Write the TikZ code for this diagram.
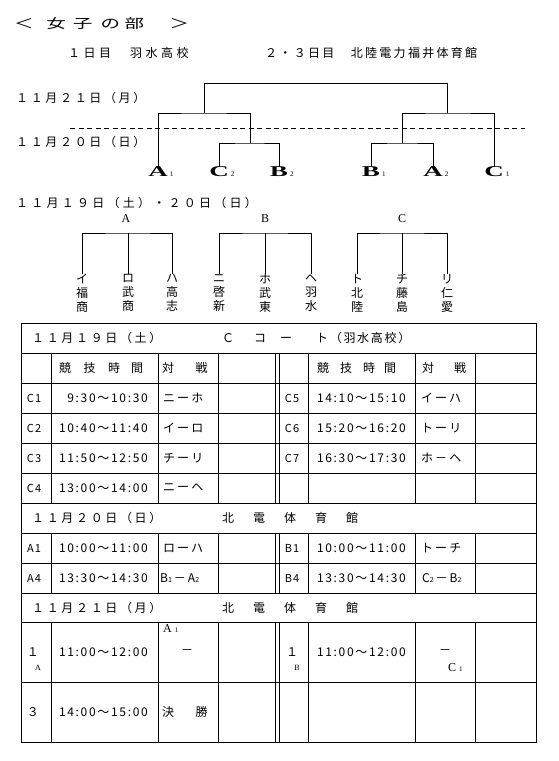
\documentclass[tikz,border=0pt]{standalone}
\usepackage{fontspec}
\setmainfont{Liberation Serif}
\newfontfamily\jp{Noto Sans CJK JP}
\newcommand\jpf[2]{\jp\addfontfeatures{LetterSpace=#2}\fontsize{#1}{#1}\selectfont}
\newcommand\seed[2]{\scalebox{1.8}[1]{#1}\rlap{\hspace{2pt}\fontsize{7}{7}\selectfont\mdseries #2}}
\newcommand\idx[1]{{\fontsize{7}{7}\selectfont #1}}

\tikzset{
  every node/.style={inner sep=0pt},
  ln/.style={line width=1pt},
  seed/.style={font=\fontsize{15}{15}\selectfont\bfseries},
  grp/.style={font=\fontsize{12}{12}\selectfont},
  team/.style={anchor=north, align=center, font=\jp\fontsize{12}{14}\selectfont},
  date/.style={anchor=west, font=\jpf{12}{22}},
  cell/.style={font=\jpf{11}{10}},
  hhmm/.style={anchor=east, font=\jpf{12}{14}},
  pairtxt/.style={anchor=west, font=\jpf{12}{17}},
}

\begin{document}
\begin{tikzpicture}[x=1pt,y=-1pt]
\useasboundingbox (0,0) rectangle (559,761);

% heading
\node[anchor=west, font=\jpf{13}{0}] (title) at (14,24) {\scalebox{1.5}[1]{＜\hspace{8.5pt}女\hspace{4.6pt}子\hspace{5.6pt}の\hspace{3pt}部\hspace{17pt}＞}};
\node[anchor=west, font=\jpf{12}{29}] (day1) at (68,53) {１日目　羽水高校};
\node[anchor=west, font=\jpf{12}{19}] (day23) at (265,53) {２・３日目　北陸電力福井体育館};

% final tournament
\node[date] (d21) at (16,98) {１１月２１日（月）};
\node[date] (d20) at (16,142) {１１月２０日（日）};
\draw[ln, dash pattern=on 5pt off 3.5pt] (70,128) -- (525,128);

\node[seed] (A1) at (158,172) {\seed{A}{1}};
\node[seed] (C2) at (219,172) {\seed{C}{2}};
\node[seed] (B2) at (279,172) {\seed{B}{2}};
\node[seed] (B1) at (371,172) {\seed{B}{1}};
\node[seed] (A2) at (433,172) {\seed{A}{2}};
\node[seed] (C1) at (494,172) {\seed{C}{1}};

\coordinate (fin) at (204,83);
\coordinate (sfl) at (204,113);
\coordinate (sfr) at (447,113);
\coordinate (qfl) at (250,143);
\coordinate (qfr) at (402,143);
\draw[ln] (A1) |- (sfl) -| (qfl);
\draw[ln] (C2) |- (qfl) -| (B2);
\draw[ln] (sfl) |- (fin) -| (sfr);
\draw[ln] (C1) |- (sfr) -| (qfr);
\draw[ln] (B1) |- (qfr) -| (A2);

% league
\node[anchor=west, font=\jpf{12}{27}] (d19) at (16,203) {１１月１９日（土）・２０日（日）};
\node[grp] (gA) at (126,219) {A};
\node[grp] (gB) at (265,219) {B};
\node[grp] (gC) at (402,219) {C};
\coordinate (bA) at (128,233);
\coordinate (bB) at (265,233);
\coordinate (bC) at (402,233);

\node[team] (i)   at (82,274)  {イ\\福\\商};
\node[team] (ro)  at (128,274) {ロ\\武\\商};
\node[team] (ha)  at (172,274) {ハ\\高\\志};
\node[team] (ni)  at (219,274) {ニ\\啓\\新};
\node[team] (ho)  at (265,274) {ホ\\武\\東};
\node[team] (he)  at (311,274) {ヘ\\羽\\水};
\node[team] (to)  at (357,274) {ト\\北\\陸};
\node[team] (chi) at (402,274) {チ\\藤\\島};
\node[team] (ri)  at (447,274) {リ\\仁\\愛};

\draw[ln] (i) |- (bA) -| (ha);
\draw[ln] (ro) -- (bA);
\draw[ln] (ni) |- (bB) -| (he);
\draw[ln] (ho) -- (bB);
\draw[ln] (to) |- (bC) -| (ri);
\draw[ln] (chi) -- (bC);

% timetable
\draw[ln] (21,323) rectangle (536,742);
\foreach \y in {353,383,413,443,473,503,533,563,593,622,682}
  \draw[ln] (21,\y) -- (536,\y);
\foreach \x in {51,158,218,275,279,308.5,415,475}
  \foreach \a/\b in {353/503,533/593,622/742}
    \draw[ln] (\x,\a) -- (\x,\b);

\node[date] (h19) at (32,338) {１１月１９日（土）};
\node[anchor=west, font=\jpf{12}{14}] (court) at (222,338) {Ｃ\hspace{20pt}コ\hspace{14pt}ー\hspace{24pt}ト（羽水高校）};
\node[anchor=west, font=\jpf{12}{0}] (colL) at (59,368) {競\hspace{12.5pt}技\hspace{12.5pt}時\hspace{11pt}間};
\node[anchor=west, font=\jpf{12}{0}] (colR) at (317,368) {競\hspace{11pt}技\hspace{11pt}時\hspace{9pt}間};
\node[anchor=west, font=\jpf{12}{0}] (vsL) at (162,368) {対\hspace{21.5pt}戦};
\node[anchor=west, font=\jpf{12}{0}] (vsR) at (422,368) {対\hspace{20pt}戦};

\foreach \code/\hm/\pair [count=\k] in {C1/9:30～10:30/ニーホ, C2/10:40～11:40/イーロ, C3/11:50～12:50/チーリ, C4/13:00～14:00/ニーヘ} {
  \node[cell] (c\k) at (34,368+30*\k) {\code};
  \node[hhmm] (t\k) at (148,368+30*\k) {\hm};
  \node[pairtxt] (p\k) at (163,368+30*\k) {\pair};
}
\foreach \code/\hm/\pair [count=\k] in {C5/14:10～15:10/イーハ, C6/15:20～16:20/トーリ, C7/16:30～17:30/ホ－ヘ} {
  \node[cell] (cr\k) at (292,368+30*\k) {\code};
  \node[hhmm] (tr\k) at (406,368+30*\k) {\hm};
  \node[pairtxt] (pr\k) at (421,368+30*\k) {\pair};
}

\node[date] (h20) at (32,518) {１１月２０日（日）};
\node[anchor=west, font=\jpf{12}{29}] (hall20) at (222,518) {北　電　体　育　館};
\node[cell] (a1) at (34,548) {A1};
\node[hhmm] (ta1) at (148,548) {10:00～11:00};
\node[pairtxt] (pa1) at (163,548) {ローハ};
\node[cell] (b1) at (292,548) {B1};
\node[hhmm] (tb1) at (406,548) {10:00～11:00};
\node[pairtxt] (pb1) at (421,548) {トーチ};
\node[cell] (a4) at (34,578) {A4};
\node[hhmm] (ta4) at (148,578) {13:30～14:30};
\node[anchor=west, font=\jpf{12}{5}] (pa4) at (160,578) {B\idx{1}\,－\,A\idx{2}};
\node[cell] (b4) at (292,578) {B4};
\node[hhmm] (tb4) at (406,578) {13:30～14:30};
\node[anchor=west, font=\jpf{12}{5}] (pb4) at (422,578) {C\idx{2}\,－\,B\idx{2}};

\node[date] (h21) at (32,608) {１１月２１日（月）};
\node[anchor=west, font=\jpf{12}{29}] (hall21) at (222,608) {北　電　体　育　館};
\node[font=\jpf{12}{0}] (sfa) at (33,652) {１};
\node[font=\fontsize{8}{8}\selectfont] (sfaa) at (38,668) {A};
\node[hhmm] (tsa) at (148,652) {11:00～12:00};
\node[anchor=west, font=\fontsize{12}{12}\selectfont] (sa) at (163,629) {A\hspace{3pt}\idx{1}};
\node[font=\jpf{12}{0}] (sadash) at (187,652) {－};
\node[font=\jpf{12}{0}] (sfb) at (292,652) {１};
\node[font=\fontsize{8}{8}\selectfont] (sfbb) at (297,668) {B};
\node[hhmm] (tsb) at (406,652) {11:00～12:00};
\node[font=\jpf{12}{0}] (sbdash) at (445,652) {－};
\node[anchor=west, font=\fontsize{12}{12}\selectfont] (sb) at (448,668) {C\hspace{3pt}\idx{1}};
\node[font=\jpf{12}{0}] (fno) at (33,712) {３};
\node[hhmm] (tf) at (148,712) {14:00～15:00};
\node[anchor=west, font=\jpf{12}{0}] (fin2) at (162,712) {決\hspace{21.5pt}勝};
\end{tikzpicture}
\end{document}
